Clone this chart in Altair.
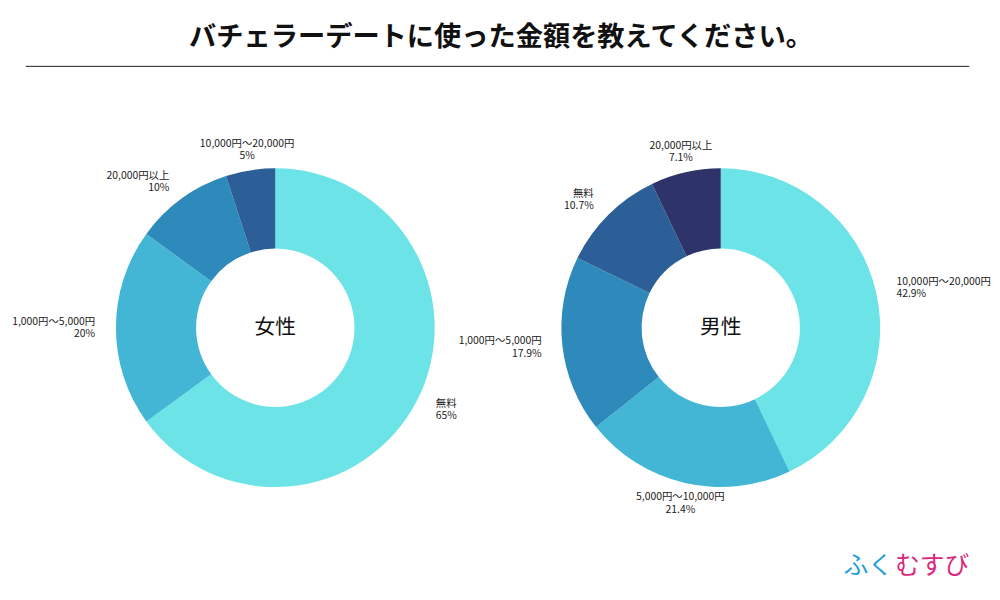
import math
import altair as alt
import pandas as pd

FONT = "Noto Sans CJK JP"

title_text = "バチェラーデートに使った金額を教えてください。"

female_name = "女性"
female_labels = ["無料", "1,000円〜5,000円", "20,000円以上", "10,000円〜20,000円"]
female_values = [65, 20, 10, 5]
female_pct = ["65%", "20%", "10%", "5%"]

male_name = "男性"
male_labels = ["10,000円〜20,000円", "5,000円〜10,000円", "1,000円〜5,000円", "無料", "20,000円以上"]
male_values = [42.9, 21.4, 17.9, 10.7, 7.1]
male_pct = ["42.9%", "21.4%", "17.9%", "10.7%", "7.1%"]

palette = ["#6BE3E7", "#43B6D5", "#2D8ABA", "#2C5F98", "#2E3369"]

logo_a = "ふく"
logo_b = "むすび"


def make_df(labels, values, pcts):
    total = sum(values)
    rows = []
    cum = 0.0
    for i, (lab, v, p) in enumerate(zip(labels, values, pcts)):
        mid = cum + v / 2
        cum += v
        s = math.sin(2 * math.pi * mid / total)
        al = "left" if s > 0.55 else ("right" if s < -0.55 else "center")
        rows.append(dict(idx=i, cat=lab, value=v, label=f"{lab}\n{p}", mid=mid, al=al))
    return pd.DataFrame(rows), total


def donut(labels, values, pcts, name, w, h, extra=None):
    df, total = make_df(labels, values, pcts)
    base = alt.Chart(df)
    arcs = base.mark_arc(innerRadius=80, outerRadius=161).encode(
        theta=alt.Theta("value:Q", stack=True, scale=alt.Scale(domain=[0, total])),
        color=alt.Color("idx:O", scale=alt.Scale(domain=list(range(len(palette))), range=palette), legend=None),
        order=alt.Order("idx:Q"),
    )
    layers = [arcs]
    for al in ["left", "center", "right"]:
        layers.append(
            base.transform_filter(alt.datum.al == al)
            .mark_text(radius=182, align=al, baseline="middle", lineBreak="\n", dy=-6,
                       fontSize=10.5, lineHeight=12.5, font=FONT, color="#1a1a1a")
            .encode(
                theta=alt.Theta("mid:Q", stack=False, scale=alt.Scale(domain=[0, total])),
                text="label:N",
            )
        )
    center = alt.Chart(pd.DataFrame({"t": [name]})).mark_text(
        fontSize=21, font=FONT, color="#111", baseline="middle", align="center"
    ).encode(text="t:N")
    layers.append(center)
    if extra:
        layers.extend(extra)
    return alt.layer(*layers).resolve_scale(theta="independent").properties(width=w, height=h)


header_df = pd.DataFrame({"t": [title_text]})
title = alt.Chart(header_df).mark_text(
    fontSize=27.5, fontWeight="bold", font=FONT, color="#111", baseline="middle", align="center"
).encode(text="t:N", x=alt.value(497), y=alt.value(26))
rule = alt.Chart(header_df).mark_rule(color="#222", strokeWidth=1).encode(
    x=alt.value(17), x2=alt.value(970), y=alt.value(55)
)
header = alt.layer(title, rule).properties(width=984, height=60)

logo1 = alt.Chart(pd.DataFrame({"t": [logo_a]})).mark_text(
    fontSize=25, font=FONT, color="#1E9ED9", align="right", baseline="middle"
).encode(text="t:N", x=alt.value(355), y=alt.value(500))
logo2 = alt.Chart(pd.DataFrame({"t": [logo_b]})).mark_text(
    fontSize=25, font=FONT, color="#DB2780", align="left", baseline="middle"
).encode(text="t:N", x=alt.value(357), y=alt.value(500))

female = donut(female_labels, female_values, female_pct, female_name, 538, 518)
male = donut(male_labels, male_values, male_pct, male_name, 362, 518, extra=[logo1, logo2])

row = alt.hconcat(female, male, spacing=0, bounds="flush")
chart = alt.vconcat(header, row, spacing=0, bounds="flush").properties(
    padding=0
).configure_view(stroke="transparent")

chart.save("out.html", embed_options={"renderer": "svg", "actions": False})
